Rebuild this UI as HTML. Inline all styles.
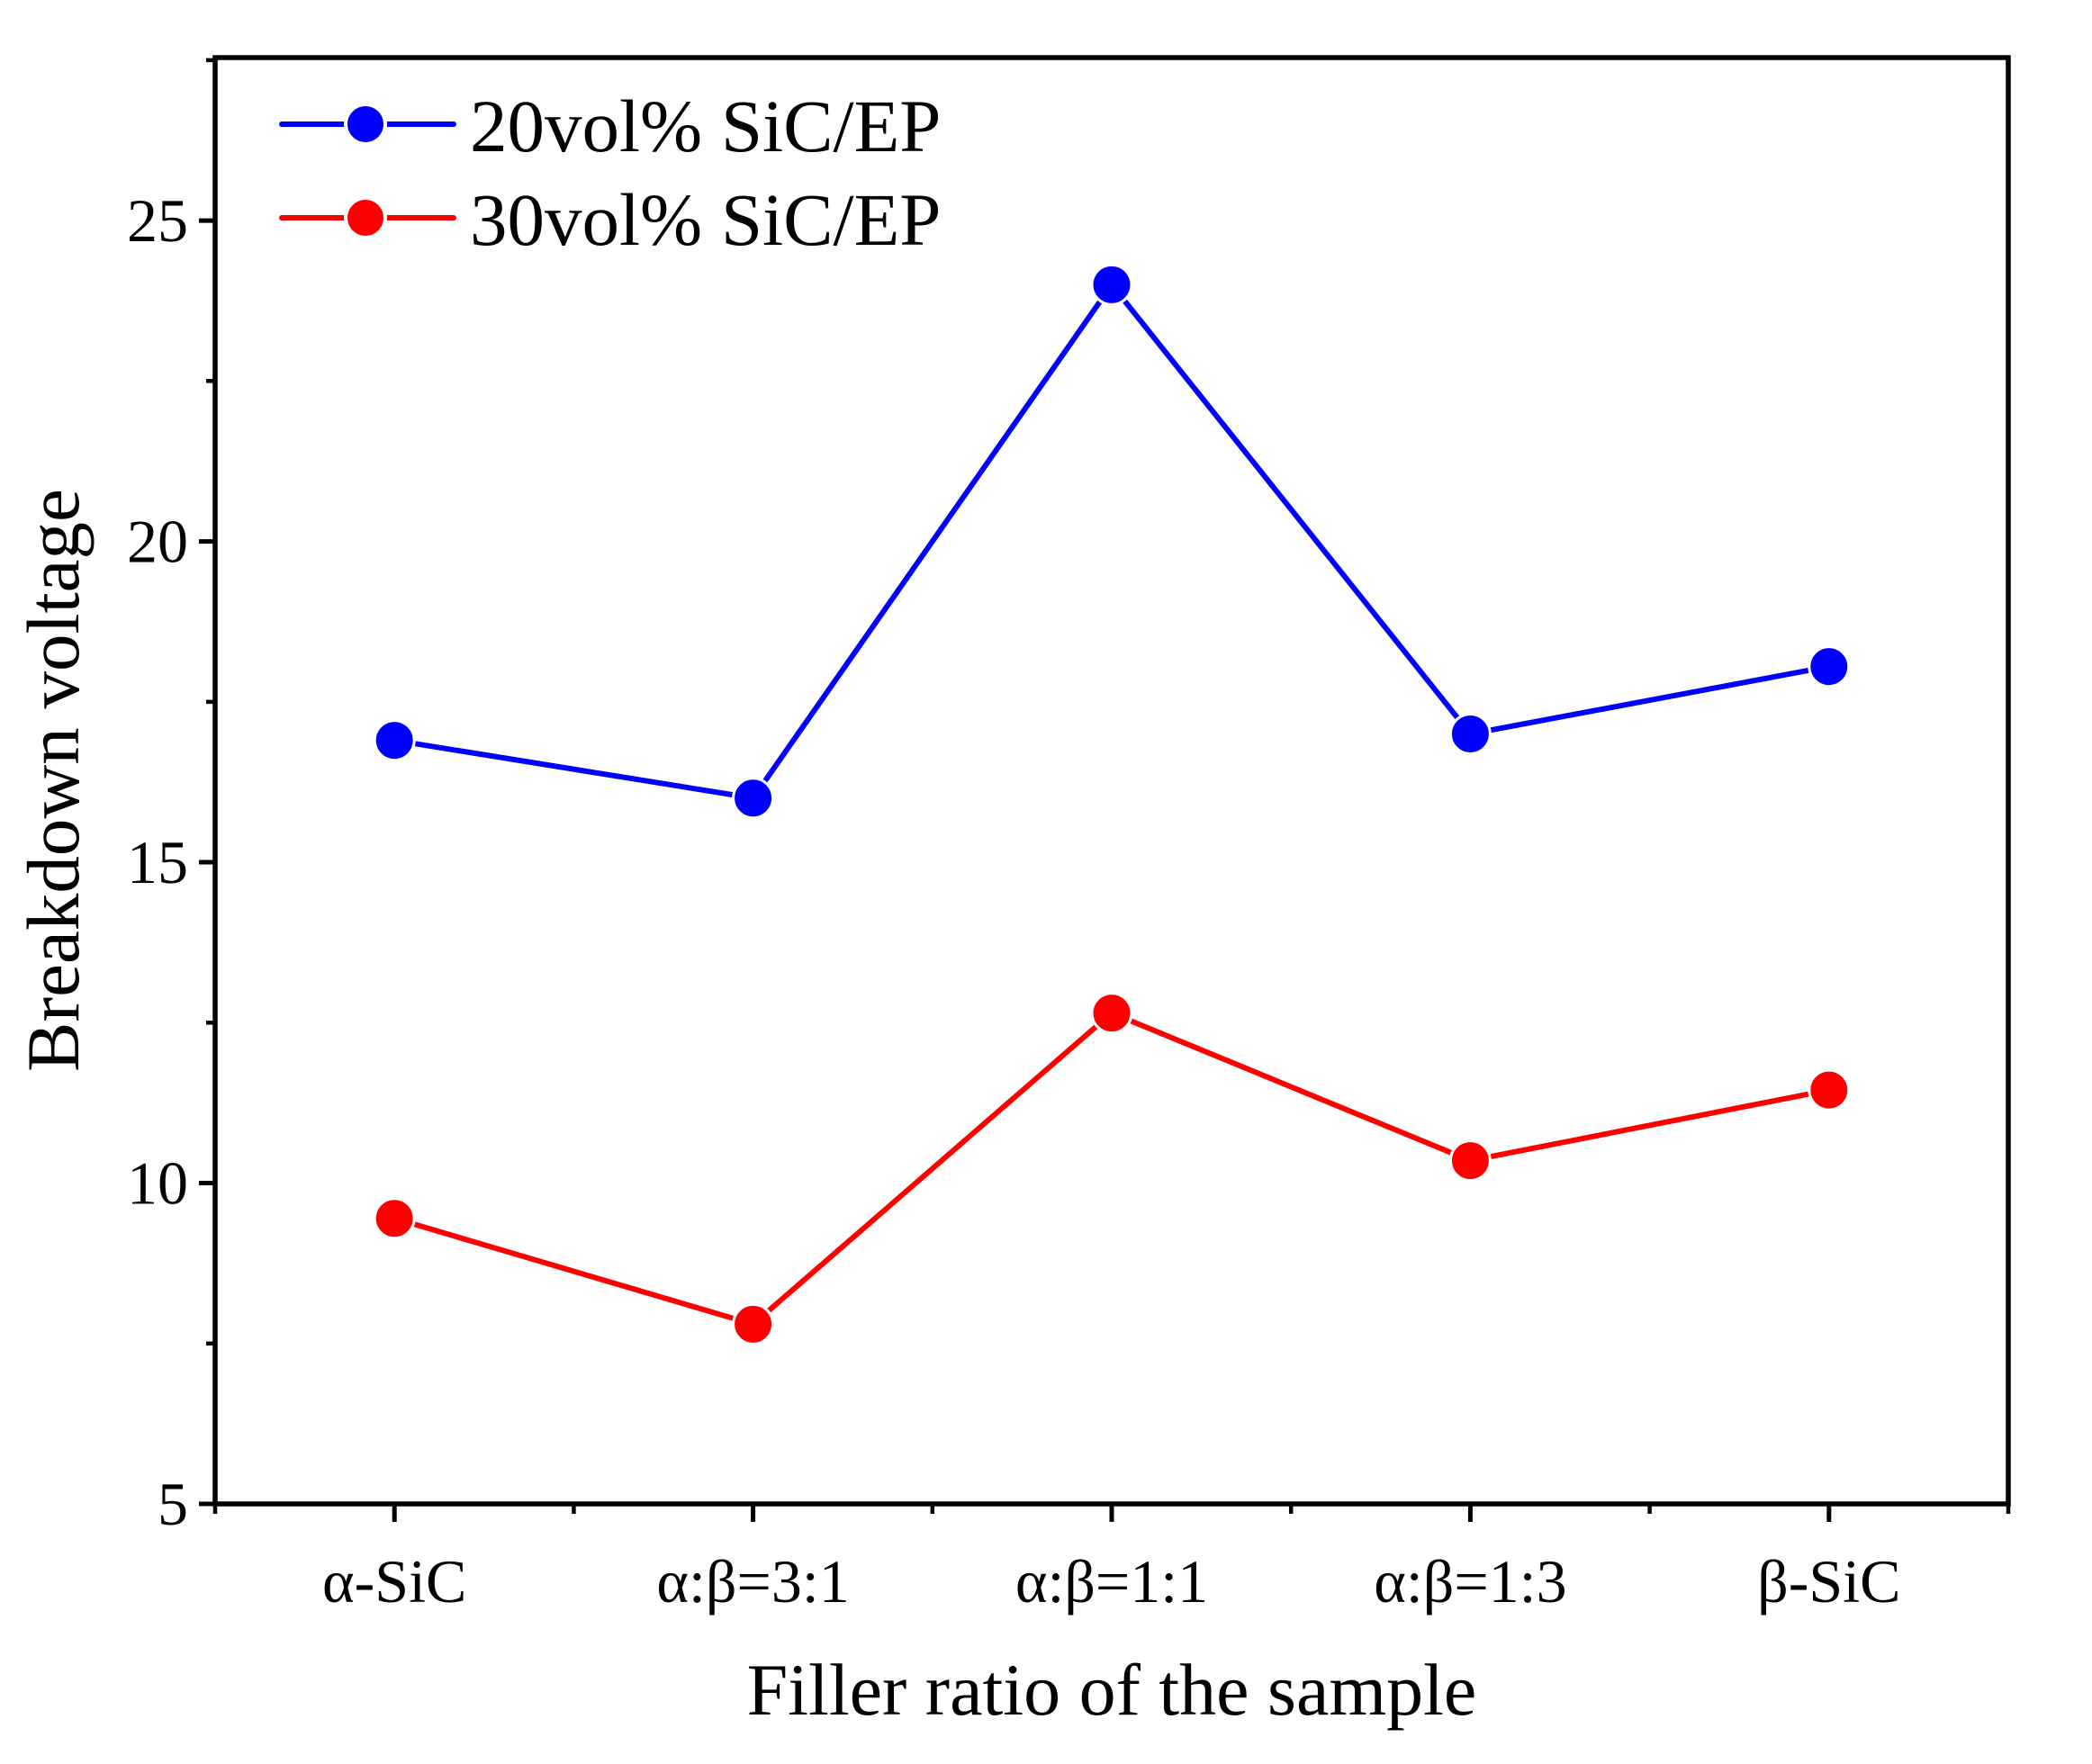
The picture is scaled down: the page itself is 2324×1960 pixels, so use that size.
<!DOCTYPE html>
<html><head><meta charset="utf-8"><style>html,body{margin:0;padding:0;background:#fff}svg{display:block}</style></head>
<body>
<svg id="chart" xmlns="http://www.w3.org/2000/svg" width="2324" height="1960" viewBox="0 0 2324 1960" font-family="'Liberation Serif', serif">
<rect width="2324" height="1960" fill="#fff"/>
</svg>
<script>
const categories = ["α-SiC", "α:β=3:1", "α:β=1:1", "α:β=1:3", "β-SiC"];
const series20 = [16.9, 16.0, 24.0, 17.0, 18.05];
const series30 = [9.45, 7.8, 12.65, 10.35, 11.45];
const yTicks = [5, 10, 15, 20, 25];
const yMinorTicks = [7.5, 12.5, 17.5, 22.5, 27.5];
const seriesNames = ["20vol% SiC/EP", "30vol% SiC/EP"];

const L=239,R=2231,T=64,B=1671;
const yMin=5,yMax=27.54;
const xs=i=>L+(i+0.5)*(R-L)/categories.length;
const ys=v=>B-(v-yMin)/(yMax-yMin)*(B-T);
const svg=document.getElementById('chart');
const NS='http://www.w3.org/2000/svg';
function mk(tag,attrs,parent){const e=document.createElementNS(NS,tag);for(const k in attrs)e.setAttribute(k,attrs[k]);(parent||svg).appendChild(e);return e;}

let fr=mk('rect',{x:L,y:T,width:R-L,height:B-T,fill:'none',stroke:'#000','stroke-width':5.5});



yTicks.forEach(v=>{
  const y=ys(v);
  let t=mk('line',{x1:L-18,x2:L,y1:y,y2:y,stroke:'#000','stroke-width':5});
  
  
  let tx=mk('text',{x:209,y:y+23,'text-anchor':'end','font-size':68});
  tx.textContent=v;
  
  
});
yMinorTicks.forEach(v=>{
  const y=ys(v);
  let t=mk('line',{x1:L-10,x2:L,y1:y,y2:y,stroke:'#000','stroke-width':4.5});
  
  
});
categories.forEach((c,i)=>{
  const x=xs(i);
  let t=mk('line',{x1:x,x2:x,y1:B,y2:B+20,stroke:'#000','stroke-width':5});
  
  
  let tx=mk('text',{x:x,y:1780,'text-anchor':'middle','font-size':68});
  tx.textContent=c;
  
  
});
for(let i=0;i<=categories.length;i++){
  const x=L+i*(R-L)/categories.length;
  let t=mk('line',{x1:x,x2:x,y1:B,y2:B+11,stroke:'#000','stroke-width':4.5});
  
  
}
let xt=mk('text',{x:(L+R)/2,y:1905,'text-anchor':'middle','font-size':82});
xt.textContent='Filler ratio of the sample';


let yt=mk('text',{x:0,y:0,'text-anchor':'middle','font-size':83,transform:`translate(87,867) rotate(-90)`});
yt.textContent='Breakdown voltage';



function drawSeries(vals,color,name){
  const g=mk('g',{});
  
  
  const pts=vals.map((v,i)=>xs(i)+','+ys(v)).join(' ');
  let pl=mk('polyline',{points:pts,fill:'none',stroke:color,'stroke-width':6,'stroke-linejoin':'round'},g);
  
  
  vals.forEach((v,i)=>{
    let c=mk('circle',{cx:xs(i),cy:ys(v),r:22,fill:color,stroke:'#fff','stroke-width':3},g);
    
    
  });
}
drawSeries(series20,'#0000ff','series-20vol');
drawSeries(series30,'#ff0000','series-30vol');

const legColors=['#0000ff','#ff0000'];
const legY=[138,242];
seriesNames.forEach((n,i)=>{
  const g=mk('g',{});
  
  
  mk('line',{x1:313,x2:504,y1:legY[i],y2:legY[i],stroke:legColors[i],'stroke-width':6,'stroke-linecap':'round'},g);
  mk('circle',{cx:406,cy:legY[i],r:22,fill:legColors[i],stroke:'#fff','stroke-width':4},g);
  let t=mk('text',{x:522,y:legY[i]+30,'font-size':83},g);
  t.textContent=n;
  
  
});
</script>
</body></html>
